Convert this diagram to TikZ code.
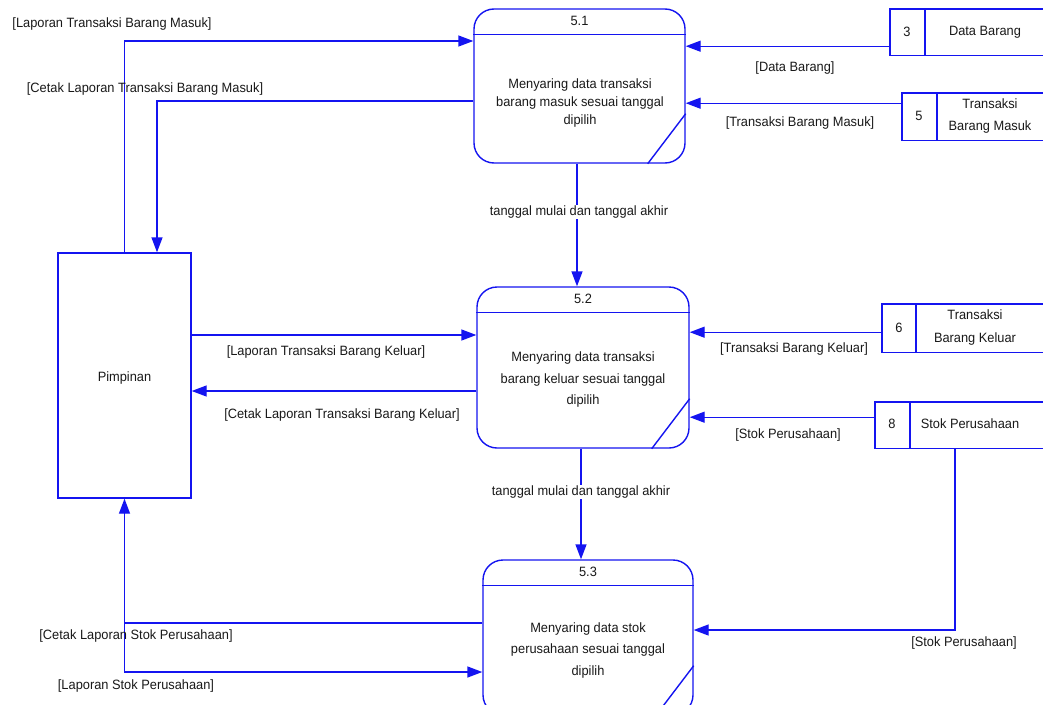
\documentclass[tikz,border=0pt]{standalone}
\usepackage{fontspec}
\setmainfont[FakeStretch=0.95]{Liberation Sans}
\usetikzlibrary{arrows.meta,calc}
\definecolor{dfdblue}{RGB}{20,20,240}
\begin{document}
\begin{tikzpicture}[x=1pt,y=-1pt,
  every node/.style={font=\fontsize{13.5}{17.5}\selectfont, text=black!90},
  flow/.style={draw=dfdblue, line width=1.4pt, -{Triangle[length=15pt,width=11pt]}},
  edge/.style={draw=dfdblue, line width=1.4pt},
  proc/.style={draw=dfdblue, line width=1.4pt, rounded corners=20pt, inner sep=0pt, fill=white},
  storearea/.style={inner sep=0pt, anchor=north west},
  lbl/.style={inner sep=1pt, align=center},
  masklbl/.style={inner sep=0.5pt, fill=white, align=center}]
\clip (0,0) rectangle (1043,704);
\useasboundingbox (0,0) rectangle (1043,704);
\fill[white] (0,0) rectangle (1043,704);

% processes
\node[proc, minimum width=211pt, minimum height=154pt] (p1) at (579.5,86) {};
\node[proc, minimum width=212pt, minimum height=161pt] (p2) at (583,367.5) {};
\node[proc, minimum width=210pt, minimum height=155pt] (p3) at (588,637.5) {};
\foreach \p/\n in {p1/5.1,p2/5.2,p3/5.3}{
  \draw[edge] ([yshift=-26pt]\p.north west) -- ([yshift=-26pt]\p.north east);
  \draw[edge] ([yshift=50pt]\p.south east) -- ([xshift=-38pt]\p.south east);
  \node[lbl] (\p h) at ([yshift=-13pt]\p.north) {\n};
}
\node[lbl, font=\fontsize{13.5}{18}\selectfont] (p1t) at (580,103) {Menyaring data transaksi\\barang masuk sesuai tanggal\\dipilih};
\node[lbl, font=\fontsize{13.5}{21.5}\selectfont] (p2t) at (583,380) {Menyaring data transaksi\\barang keluar sesuai tanggal\\dipilih};
\node[lbl, font=\fontsize{13.5}{21.5}\selectfont] (p3t) at (588,650) {Menyaring data stok\\perusahaan sesuai tanggal\\dipilih};

% external entity
\node[draw=dfdblue, line width=1.4pt, minimum width=133pt, minimum height=245pt, inner sep=0pt] (pim) at (124.5,375.5) {};
\node[lbl] (pimt) at (124.5,378) {Pimpinan};

% data stores (open on the right)
\node[storearea, minimum width=170pt, minimum height=46pt] (s3) at (890,9) {};
\node[storearea, minimum width=160pt, minimum height=47pt] (s5) at (902,93) {};
\node[storearea, minimum width=180pt, minimum height=48pt] (s6) at (882,304) {};
\node[storearea, minimum width=190pt, minimum height=46pt] (s8) at (875,402) {};
\foreach \s/\d in {s3/35,s5/35,s6/34,s8/35}{
  \draw[edge] (\s.north east) -- (\s.north west) -- (\s.south west) -- (\s.south east);
  \draw[edge] ([xshift=\d pt]\s.north west) -- ([xshift=\d pt]\s.south west);
}
\node[lbl] (s3n) at (907,32) {3};
\node[lbl] (s3t) at (985,32) {Data Barang};
\node[lbl] (s5n) at (919,116) {5};
\node[lbl, font=\fontsize{13.5}{22}\selectfont] (s5t) at (990,116) {Transaksi\\Barang Masuk};
\node[lbl] (s6n) at (899,328) {6};
\node[lbl, font=\fontsize{13.5}{23}\selectfont] (s6t) at (975,328) {Transaksi\\Barang Keluar};
\node[lbl] (s8n) at (892,424) {8};
\node[lbl] (s8t) at (970,424) {Stok Perusahaan};

% flows
\draw[flow] (pim.north) |- ([yshift=45pt]p1.west);
\draw[flow] ([yshift=-15pt]p1.west) -| ([xshift=32.5pt]pim.north);
\draw[flow] ([yshift=-14pt]s3.west) -- ([yshift=-14pt]s3.west -| p1.east);
\draw[flow] ([yshift=13.5pt]s5.west) -- ([yshift=13.5pt]s5.west -| p1.east);
\draw[flow] ([xshift=-2.5pt]p1.south) -- ([xshift=-2.5pt]p1.south |- p2.north);
\draw[flow] ([yshift=40.5pt]pim.east) -- ([yshift=40.5pt]pim.east -| p2.west);
\draw[flow] ([yshift=-23.5pt]p2.west) -- ([yshift=-23.5pt]p2.west -| pim.east);
\draw[flow] ([yshift=-4pt]s6.west) -- ([yshift=-4pt]s6.west -| p2.east);
\draw[flow] ([yshift=8pt]s8.west) -- ([yshift=8pt]s8.west -| p2.east);
\draw[flow] ([xshift=-2pt]p2.south) -- ([xshift=-2pt]p2.south |- p3.north);
\draw[flow] ([xshift=80pt]s8.south west) |- ([yshift=7.5pt]p3.east);
\draw[flow] ([yshift=14.5pt]p3.west) -| (pim.south);
\coordinate (j) at (124.5,623);
\draw[flow] (j) |- ([yshift=-34.5pt]p3.west);

% flow labels
\node[lbl] (l1) at (112,24) {[Laporan Transaksi Barang Masuk]};
\node[lbl] (l2) at (145,89) {[Cetak Laporan Transaksi Barang Masuk]};
\node[lbl] (l3) at (795,68) {[Data Barang]};
\node[lbl] (l4) at (800,123) {[Transaksi Barang Masuk]};
\node[masklbl] (l5) at (579,212) {tanggal mulai dan tanggal akhir};
\node[lbl] (l6) at (326,352) {[Laporan Transaksi Barang Keluar]};
\node[lbl] (l7) at (342,415) {[Cetak Laporan Transaksi Barang Keluar]};
\node[lbl] (l8) at (794,349) {[Transaksi Barang Keluar]};
\node[lbl] (l9) at (788,435) {[Stok Perusahaan]};
\node[masklbl] (l10) at (581,492) {tanggal mulai dan tanggal akhir};
\node[lbl] (l11) at (964,643) {[Stok Perusahaan]};
\node[lbl] (l12) at (136,636) {[Cetak Laporan Stok Perusahaan]};
\node[lbl] (l13) at (136,686) {[Laporan Stok Perusahaan]};
\end{tikzpicture}
\end{document}
